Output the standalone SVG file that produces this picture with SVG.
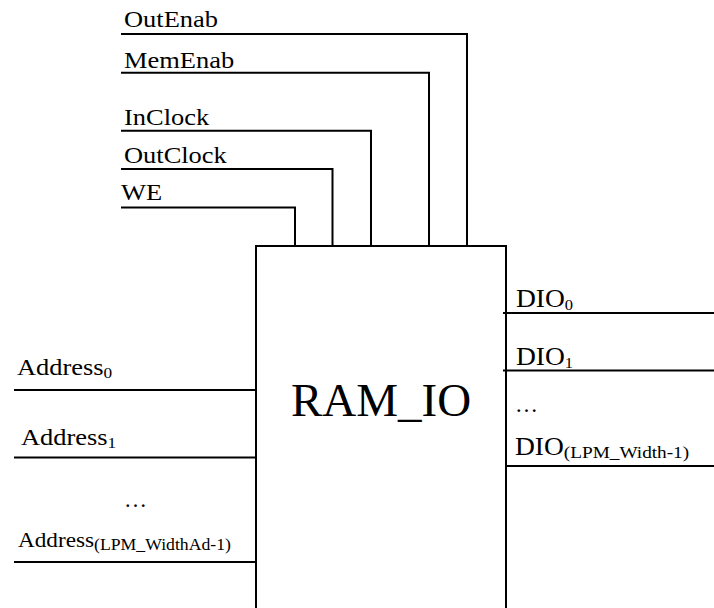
<svg xmlns="http://www.w3.org/2000/svg" width="714" height="608" viewBox="0 0 714 608">
<style>
  .w{fill:none;stroke:#000;stroke-width:2}
  .t{font-family:"Liberation Serif","Times New Roman",serif;font-size:23px;fill:#000}
  .d{font-family:"Liberation Serif","Times New Roman",serif;font-size:25px;fill:#000}
  .s{font-size:15px}
</style>
<rect width="714" height="608" fill="#fff"/>
<g id="connectors">
  <path class="w" d="M121,34 H467 V246"/>
  <path class="w" d="M121,72.7 H429 V246"/>
  <path class="w" d="M121,130.7 H371 V246"/>
  <path class="w" d="M121,169 H332.5 V246"/>
  <path class="w" d="M121,207.5 H295 V246"/>
  <path class="w" d="M14,390 H256"/>
  <path class="w" d="M14,457.5 H256"/>
  <path class="w" d="M14,562 H256"/>
  <path class="w" d="M503,313 H714"/>
  <path class="w" d="M503,370.5 H714"/>
  <path class="w" d="M506,466 H714"/>
</g>
<g id="ram_io">
  <path class="w" d="M256,612 V246 H506 V612"/>
  <text x="381" y="416" text-anchor="middle" font-family="Liberation Serif, Times New Roman, serif" font-size="47">RAM_IO</text>
</g>
<g id="OutEnab"><text class="t" transform="translate(124,27) scale(1.15,1)">OutEnab</text></g>
<g id="MemEnab"><text class="t" transform="translate(124,67.5) scale(1.15,1)">MemEnab</text></g>
<g id="InClock"><text class="t" transform="translate(124,124.5) scale(1.15,1)">InClock</text></g>
<g id="OutClock"><text class="t" transform="translate(124,163) scale(1.15,1)">OutClock</text></g>
<g id="WE"><text class="t" transform="translate(121,200) scale(1.15,1)">WE</text></g>
<g id="Address0"><text class="t" transform="translate(17,375) scale(1.15,1)">Address<tspan class="s" dy="3">0</tspan></text></g>
<g id="Address1"><text class="t" transform="translate(21,445) scale(1.15,1)">Address<tspan class="s" dy="3">1</tspan></text></g>
<g id="dotsLeft"><text class="t" x="124" y="507">…</text></g>
<g id="AddressN"><text class="t" transform="translate(18,547) scale(1.08,1)" style="font-size:21.5px">Address<tspan dy="3" style="font-size:16.4px">(LPM_WidthAd-1)</tspan></text></g>
<g id="DIO0"><text class="d" transform="translate(516,307) scale(1.1,1)">DIO<tspan class="s" dy="3">0</tspan></text></g>
<g id="DIO1"><text class="d" transform="translate(516,365) scale(1.1,1)">DIO<tspan class="s" dy="3">1</tspan></text></g>
<g id="dotsRight"><text class="t" x="515" y="412">…</text></g>
<g id="DION"><text class="d" transform="translate(515,455) scale(1.1,1)">DIO<tspan dy="3" style="font-size:17.5px">(LPM_Width-1)</tspan></text></g>
</svg>
